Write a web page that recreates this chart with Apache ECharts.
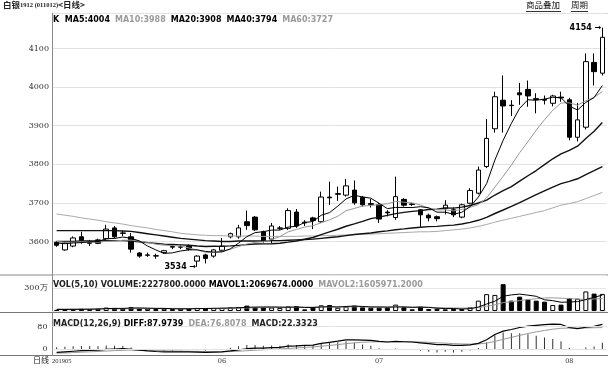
<!DOCTYPE html>
<html><head><meta charset="utf-8">
<script src="https://cdn.jsdelivr.net/npm/echarts/dist/echarts.min.js"></script>
<style>html,body{margin:0;padding:0;background:#fff}#c{width:613px;height:370px}</style>
</head><body><div id="c"></div>
<script>
const dates = ['20190506','20190507','20190508','20190509','20190510','20190513','20190514','20190515','20190516','20190517','20190520','20190521','20190522','20190523','20190524','20190527','20190528','20190529','20190530','20190531',
'20190603','20190604','20190605','20190606','20190610','20190611','20190612','20190613','20190614','20190617','20190618','20190619','20190620','20190621','20190624','20190625','20190626','20190627','20190628',
'20190701','20190702','20190703','20190704','20190705','20190708','20190709','20190710','20190711','20190712','20190715','20190716','20190717','20190718','20190719','20190722','20190723','20190724','20190725','20190726','20190729','20190730','20190731',
'20190801','20190802','20190805','20190806','20190807'];

const opens = [3598,3578,3588,3612,3595,3604,3607,3635,3622,3612, 3570,3564,3563,3571,3585,3585,3588,3549,3565,3562, 3577,3612,3612,3651,3663,3625,3606,3634,3634,3676, 3648,3661,3651,3715,3722,3720,3733,3714,3698,3695, 3676,3662,3709,3697,3682,3668,3664,3686,3682,3663, 3699,3725,3794,3892,3966,3953,3985,3994,3970,3968, 3958,3974,3967,3870,3896,4064,4036];
const closes = [3590,3596,3609,3602,3597,3595,3632,3612,3621,3580, 3562,3565,3562,3576,3587,3586,3580,3562,3556,3578, 3588,3620,3635,3641,3630,3601,3640,3635,3680,3640, 3650,3654,3715,3713,3724,3744,3700,3695,3696,3658, 3674,3716,3694,3696,3669,3661,3659,3694,3669,3695, 3732,3785,3867,3975,3951,3952,3980,3977,3968,3966, 3977,3972,3870,3915,4066,4040,4129];
const lows = [3586,3576,3585,3594,3588,3593,3604,3608,3614,3571, 3558,3560,3555,3568,3580,3580,3576,3534,3543,3558, 3573,3608,3607,3630,3627,3597,3596,3630,3630,3635, 3640,3632,3648,3695,3705,3716,3695,3690,3688,3648, 3665,3656,3690,3692,3638,3652,3652,3670,3663,3660, 3696,3722,3790,3882,3882,3925,3954,3949,3932,3955, 3950,3962,3862,3859,3890,4004,4030];
const highs = [3601,3598,3613,3625,3604,3607,3643,3640,3628,3622, 3572,3571,3568,3578,3590,3592,3592,3564,3568,3580, 3609,3623,3643,3680,3666,3628,3648,3640,3686,3684, 3655,3664,3729,3755,3742,3762,3758,3718,3710,3700, 3681,3768,3712,3700,3684,3672,3667,3707,3688,3698, 3738,3794,3917,3988,4030,3966,4011,4017,3984,3978, 3980,3988,3972,3959,4087,4087,4154];

const ma5 = [3596,3594,3596,3597,3598.8,3599.8,3607,3607.6,3611.4,3608, 3601.4,3588,3578,3569,3570.4,3575.2,3578.2,3578.2,3574.2,3572.4, 3572.8,3580.8,3595.4,3612.4,3622.8,3625.4,3629.4,3629.4,3637.2,3639.2, 3649,3651.8,3667.8,3674.6,3691.4,3710.2,3719.4,3715.4,3712,3698.8, 3685,3688.2,3688,3687.8,3690,3687.2,3675.8,3675.8,3670.4,3675.6, 3689.8,3715,3749.6,3810.8,3862,3906.2,3945.2,3967.2,3965.8,3968.8, 3973.6,3972.4,3951,3940.4,3960.4,3973,4004];
const ma10 = [3600,3598,3598,3599,3598,3598,3600,3601,3603,3603.4, 3600.6,3597.5,3592.8,3590.2,3589.2,3588.3,3583.1,3578.1,3571.6,3571.4, 3574,3579.5,3586.8,3593.3,3597.6,3599.1,3605.1,3612.4,3624.8,3631, 3637.2,3640.6,3648.6,3655.9,3665.3,3679.6,3685.6,3691.6,3693.3,3695.1, 3697.6,3703.8,3701.7,3699.9,3694.4,3686.1,3682,3681.9,3679.1,3682.8, 3688.5,3695.4,3712.7,3740.6,3768.8,3798,3830.1,3858.4,3888.3,3915.4, 3939.9,3958.8,3959.1,3953.1,3964.6,3973.3,3988.2];
const ma20 = [3600,3600,3600,3601,3601,3601,3602,3602,3602,3601, 3599,3597,3595,3593,3592,3591,3590,3588,3587,3587.4, 3587.3,3588.5,3589.8,3591.8,3593.4,3593.7,3594.1,3595.3,3598.2,3601.2, 3605.6,3610.1,3617.7,3624.6,3631.5,3639.4,3645.4,3652,3659.1,3663.1, 3667.4,3672.2,3675.2,3677.9,3679.9,3682.9,3683.8,3686.8,3686.2,3688.9, 3693.1,3699.6,3707.2,3720.3,3731.6,3742.1,3756.1,3770.2,3783.7,3799.1, 3814.2,3827.1,3835.9,3846.9,3866.7,3885.7,3908];
const ma40 = [3628,3628,3628,3628,3628,3628,3628,3628,3627,3626, 3623,3620,3617,3614,3611,3608,3606,3604,3602,3601, 3600,3600,3601,3601,3601,3601,3602,3602,3603,3604, 3605,3606,3608,3610,3612,3615,3618,3620,3622,3625.2, 3627.4,3630.4,3632.5,3634.8,3636.6,3638.3,3639,3641,3642.2,3645.1, 3649.3,3654.8,3662.5,3672.4,3681.5,3690.7,3700.7,3711.1,3721.4,3731.1, 3740.8,3749.7,3755.5,3762.4,3773.3,3783.5,3794];
const ma60 = [3671,3668,3665,3661,3658,3655,3651,3648,3645,3641, 3638,3635,3631,3628,3625,3621,3619,3617,3616,3615, 3615,3614,3614,3614,3614,3613,3613,3613,3613,3613, 3614,3614,3615,3615,3616,3617,3618,3619,3619,3620, 3621,3622,3623,3624,3625,3625,3626,3628,3630,3632, 3635,3639,3644,3650,3655,3660,3665,3670,3675,3680, 3687,3694,3698,3703,3711,3719,3727];

// volume in thousands of lots
const volumes = [150,200,250,300,250,300,450,400,300,500, 350,300,250,300,250,300,300,400,350,400, 400,450,500,700,500,500,450,400,600,650, 220,430,740,780,430,570,700,480,430,430, 430,830,480,220,570,260,300,220,260,260, 480,1350,2200,2100,3500,1350,1870,1520,1350,1220, 780,830,1700,1600,2550,2270,2227.8];
const mavol1 = [200,200,210,220,230,260,310,340,340,390, 400,370,340,340,290,280,280,310,320,350, 370,400,420,490,510,530,530,510,490,520, 464,460,528,564,520,590,644,592,522,522, 494,520,520,478,506,472,366,314,322,260, 304,514,910,1278,1926,2100,2204,2068,1918,1462, 1348,1140,1176,1226,1492,1790,2069.674];
const mavol2 = [260,255,255,255,260,265,275,285,295,310, 330,340,340,340,340,340,325,325,330,320, 325,340,365,405,430,450,465,465,490,515, 497,495,519,527,520,527,552,560,543,521, 542,582,556,500,514,483,443,417,400,383, 388,440,612,800,1093,1202,1359,1489,1598,1694, 1724,1672,1622,1572,1477,1569,1605.9712];

const diff = [-12,-10,-8,-6,-5,-4,-1,0,1,-1, -4,-7,-9,-10,-10,-10,-10,-11,-12,-11, -10,-7,-3,1,3,3,5,6,10,11, 13,14,20,24,28,33,33,32,31,27, 25,27,26,25,22,19,16,16,13,13, 15,20,33,52,64,70,77,82,85,87, 89,88,77,73,78,81,87.9739];
const dea = [-15,-14,-12.8,-11.4,-10.2,-8.9,-7.3,-5.9,-4.5,-3.8, -3.8,-4.5,-5.4,-6.3,-7.0,-7.6,-8.1,-8.7,-9.4,-9.7, -9.7,-9.2,-8.0,-6.2,-4.3,-2.9,-1.3,0.2,2.1,3.9, 5.7,7.4,9.9,12.7,15.8,19.2,22.0,24.0,25.4,25.7, 25.6,25.9,25.9,25.7,25.0,23.8,22.2,21.0,19.4,18.1, 17.5,18.0,21.0,27.2,34.6,41.7,48.8,55.4,61.3,66.4, 70.9,74.3,74.8,74.4,75.1,76.3,76.8078];
const macd = [6,8,9.6,10.8,10.4,9.8,12.6,11.8,11,5.6, -0.4,-5,-7.2,-7.4,-6,-4.8,-3.8,-4.6,-5.2,-2.6, -0.6,4.4,10,14.4,14.6,11.8,12.6,11.6,15.8,14.2, 14.6,13.2,20.2,22.6,24.4,27.6,22,16,11.2,2.6, -1.2,2.2,0.2,-1.4,-6,-9.6,-12.4,-10,-12.8,-10.2, -5,4,24,49.6,58.8,56.6,56.4,53.2,47.4,41.2, 36.2,27.4,4.4,-2.8,5.8,9.4,22.3323];

const macdTicks = [0, 80];

const last = dates.length - 1;
const hiIdx = highs.indexOf(Math.max(...highs));
const loIdx = lows.indexOf(Math.min(...lows));
const NUM = 'DejaVu Sans';
const AX = 'DejaVu Serif';
const CJK = 'Noto Sans CJK SC';

const chart = echarts.init(document.getElementById('c'), null, {width: 613, height: 370});

const gridCommon = {left: 52.5, width: 554, outerBoundsMode: 'none', containLabel: false};
const hiddenX = (gi) => ({type: 'category', gridIndex: gi, data: dates, boundaryGap: true, show: false});

const volData = volumes.map((v, i) => {
  const up = closes[i] > opens[i] || (closes[i] === opens[i] && (i === 0 || closes[i] >= closes[i - 1]));
  return {value: v, itemStyle: up ? {color: '#fff', borderColor: '#000', borderWidth: 1} : {color: '#000', borderColor: '#000', borderWidth: 1}};
});

const lineS = (name, data, color, width, xi, yi) => ({
  name, type: 'line', data, xAxisIndex: xi, yAxisIndex: yi, showSymbol: false, symbol: 'none',
  smooth: false, silent: true, z: 3, lineStyle: {color, width}
});

const option = {
  animation: false,
  backgroundColor: '#fff',
  title: [
    {left: 3, top: 1, padding: 0, text: '{a|白银}{b|1912 (011012)}{a|<日线>}',
      textStyle: {rich: {a: {fontFamily: CJK, fontSize: 8.5, color: '#222'}, b: {fontFamily: 'Liberation Serif', fontSize: 6.5, color: '#222'}}}},
    {left: 53, top: 11, padding: 0,
      text: '{n|K  }{b|MA5:' + Math.round(ma5[last]) + '} {g|MA10:' + Math.round(ma10[last]) + '} {b|MA20:' + Math.round(ma20[last]) + '} {b|MA40:' + Math.round(ma40[last]) + '} {g|MA60:' + Math.round(ma60[last]) + '}',
      textStyle: {rich: {n: {fontFamily: NUM, fontSize: 8, color: '#000'}, b: {fontFamily: NUM, fontSize: 8, fontWeight: 'bold', color: '#000'}, g: {fontFamily: NUM, fontSize: 8, color: '#9a9a9a'}}}},
    {left: 53, top: 276, padding: 0,
      text: '{n|VOL(5,10) VOLUME:' + (volumes[last] * 1000).toFixed(4) + ' }{b|MAVOL1:' + (mavol1[last] * 1000).toFixed(4) + '} {g|MAVOL2:' + (mavol2[last] * 1000).toFixed(4) + '}',
      textStyle: {rich: {n: {fontFamily: NUM, fontSize: 8, color: '#222'}, b: {fontFamily: NUM, fontSize: 8, fontWeight: 'bold', color: '#000'}, g: {fontFamily: NUM, fontSize: 8, color: '#9a9a9a'}}}},
    {left: 53, top: 315, padding: 0,
      text: '{n|MACD(12,26,9) }{b|DIFF:' + diff[last].toFixed(4) + '} {g|DEA:' + dea[last].toFixed(4) + '} {n|MACD:' + macd[last].toFixed(4) + '}',
      textStyle: {rich: {n: {fontFamily: NUM, fontSize: 8, color: '#222'}, b: {fontFamily: NUM, fontSize: 8, fontWeight: 'bold', color: '#000'}, g: {fontFamily: NUM, fontSize: 8, color: '#9a9a9a'}}}}
  ],
  grid: [
    Object.assign({top: 13, height: 262}, gridCommon),
    Object.assign({top: 275, height: 36}, gridCommon),
    Object.assign({top: 313, height: 42}, gridCommon)
  ],
  xAxis: [
    hiddenX(0), hiddenX(1),
    {type: 'category', gridIndex: 2, data: dates, boundaryGap: true,
      axisLine: {show: false}, axisTick: {show: false}, splitLine: {show: false},
      axisLabel: {interval: 0, margin: 3, hideOverlap: false, color: '#333',
        formatter: (v, i) => {
          if (i === 0) return '{s|' + v.slice(0, 6) + '}';
          if (v.slice(4, 6) !== dates[i - 1].slice(4, 6)) return '{m|' + v.slice(4, 6) + '}';
          return '';
        },
        rich: {s: {fontFamily: 'Liberation Serif', fontSize: 6.5, color: '#333', padding: [0, 0, 0, 10]}, m: {fontFamily: AX, fontSize: 6.5, color: '#333'}}}}
  ],
  yAxis: [
    {type: 'value', gridIndex: 0, min: 3513, max: 4192, splitNumber: 5,
      axisLine: {show: true, lineStyle: {color: '#8a8a8a'}}, axisTick: {show: false},
      axisLabel: {showMinLabel: false, showMaxLabel: false, fontFamily: AX, fontSize: 8, color: '#333', margin: 3.5,
        formatter: v => String(v)},
      splitLine: {show: true, lineStyle: {color: '#e2e2e2', width: 1}}},
    {type: 'value', gridIndex: 1, min: 0, max: 4696, interval: 3000,
      axisLine: {show: true, lineStyle: {color: '#8a8a8a'}}, axisTick: {show: false},
      axisLabel: {showMinLabel: false, showMaxLabel: false, fontFamily: AX, fontSize: 8, color: '#333', margin: 5,
        formatter: v => (v / 10) + '万'},
      splitLine: {show: true, lineStyle: {color: '#e6e6e6', width: 1}}},
    {type: 'value', gridIndex: 2, min: -21.5, max: 129,
      axisLine: {show: true, lineStyle: {color: '#8a8a8a'}}, axisTick: {show: false},
      axisLabel: {customValues: macdTicks, fontFamily: AX, fontSize: 8, color: '#333', margin: 5,
        formatter: v => String(v)},
      splitLine: {show: false}}
  ],
  series: [
    {name: 'K', type: 'candlestick', xAxisIndex: 0, yAxisIndex: 0, barWidth: 5, z: 2, silent: true,
      data: dates.map((d, i) => [opens[i], closes[i], lows[i], highs[i]]),
      itemStyle: {color: '#fff', color0: '#000', borderColor: '#000', borderColor0: '#000', borderWidth: 1},
      markPoint: {symbol: 'rect', symbolSize: 0.01, silent: true, animation: false,
        label: {show: true, position: 'left', distance: 1, fontFamily: NUM, fontSize: 8, fontWeight: 'bold', color: '#000',
          formatter: p => p.value + ' \u2192'},
        itemStyle: {color: 'rgba(0,0,0,0)'},
        data: [
          {coord: [dates[hiIdx], highs[hiIdx]], value: highs[hiIdx]},
          {coord: [dates[loIdx], lows[loIdx]], value: lows[loIdx]}
        ]}},
    lineS('MA60', ma60, '#aaaaaa', 1, 0, 0),
    lineS('MA40', ma40, '#111', 1.4, 0, 0),
    lineS('MA20', ma20, '#111', 1.4, 0, 0),
    lineS('MA10', ma10, '#999999', 1, 0, 0),
    lineS('MA5', ma5, '#000', 1, 0, 0),
    {name: 'VOL', type: 'bar', xAxisIndex: 1, yAxisIndex: 1, barWidth: 5, silent: true, data: volData},
    lineS('MAVOL2', mavol2, '#999999', 1, 1, 1),
    lineS('MAVOL1', mavol1, '#000', 1, 1, 1),
    {name: 'MACD', type: 'bar', xAxisIndex: 2, yAxisIndex: 2, barWidth: 1, silent: true,
      itemStyle: {color: '#333'}, data: macd,
      markLine: {silent: true, symbol: 'none', label: {show: false}, animation: false,
        lineStyle: {color: '#e2e2e2', type: 'solid', width: 1},
        data: macdTicks.map(t => ({yAxis: t}))}},
    lineS('DEA', dea, '#999999', 1, 2, 2),
    lineS('DIFF', diff, '#000', 1.2, 2, 2)
  ],
  graphic: [
    {type: 'line', silent: true, shape: {x1: 52.5, y1: 13.5, x2: 608, y2: 13.5}, style: {stroke: '#cfcfcf', lineWidth: 1}},
    {type: 'line', silent: true, shape: {x1: 0, y1: 275, x2: 608, y2: 275}, style: {stroke: '#c4c4c4', lineWidth: 2}},
    {type: 'line', silent: true, shape: {x1: 0, y1: 312.5, x2: 608, y2: 312.5}, style: {stroke: '#777', lineWidth: 1}},
    {type: 'line', silent: true, shape: {x1: 0, y1: 355.5, x2: 608, y2: 355.5}, style: {stroke: '#777', lineWidth: 1}},
    {type: 'text', silent: true, left: 526, top: 1, style: {text: '商品叠加', font: '8.5px "Noto Sans CJK SC"', fill: '#111'}},
    {type: 'text', silent: true, left: 571, top: 1, style: {text: '周期', font: '8.5px "Noto Sans CJK SC"', fill: '#111'}},
    {type: 'line', silent: true, shape: {x1: 526, y1: 11.5, x2: 561, y2: 11.5}, style: {stroke: '#333', lineWidth: 1}},
    {type: 'line', silent: true, shape: {x1: 571, y1: 11.5, x2: 588, y2: 11.5}, style: {stroke: '#333', lineWidth: 1}},
    {type: 'text', silent: true, left: 33, top: 356, style: {text: '日线', font: '8px "Noto Sans CJK SC"', fill: '#222'}}
  ]
};
chart.setOption(option);
</script>
</body></html>
